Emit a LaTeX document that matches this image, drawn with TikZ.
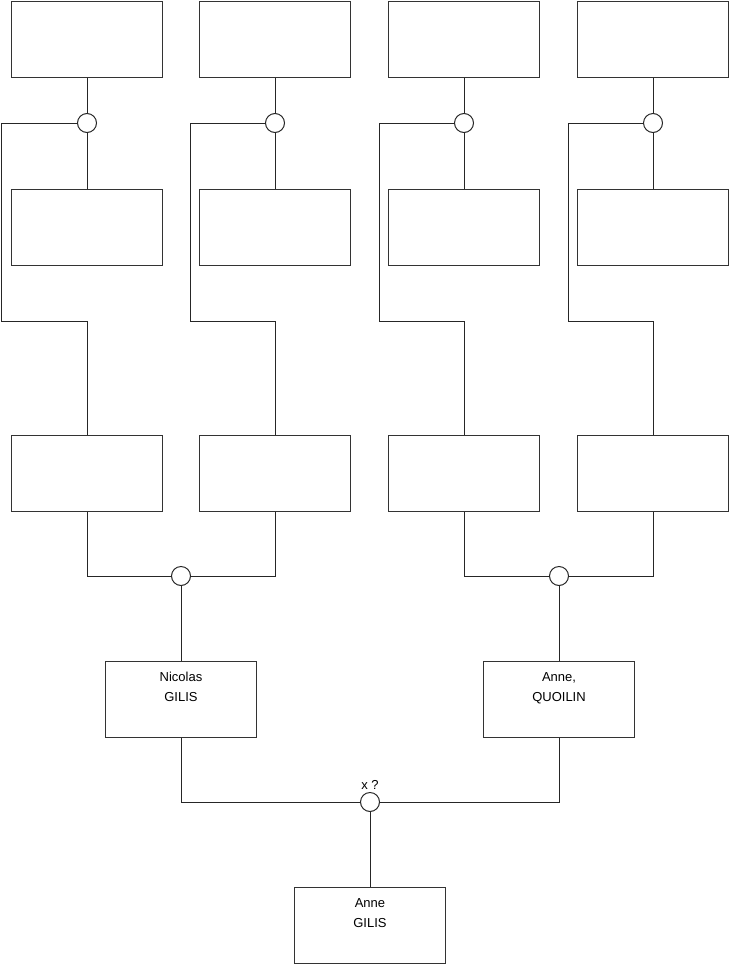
\documentclass[tikz,border=0pt]{standalone}
\usepackage{fontspec}
\setmainfont{Liberation Sans}
\begin{document}
\begin{tikzpicture}[x=1pt,y=-1pt,
  line/.style={draw=black!85,line width=1pt},
  person/.style={draw=black!80,line width=1pt,fill=white,minimum width=151pt,minimum height=76pt,inner sep=0pt,anchor=north},
  union/.style={circle,draw=black!85,line width=1pt,fill=white,minimum size=19pt,inner sep=0pt},
  nm/.style={font=\fontsize{13}{20}\selectfont,align=center,anchor=north,inner sep=0pt}]
\useasboundingbox (0,0) rectangle (740,975);
% top row
\node[person] (t1) at (87,0.5) {};
\node[person] (t2) at (275,0.5) {};
\node[person] (t3) at (464,0.5) {};
\node[person] (t4) at (653,0.5) {};
% second row
\node[person] (m1) at (87,189) {};
\node[person] (m2) at (275,189) {};
\node[person] (m3) at (464,189) {};
\node[person] (m4) at (653,189) {};
% third row
\node[person] (b1) at (87,435) {};
\node[person] (b2) at (275,435) {};
\node[person] (b3) at (464,435) {};
\node[person] (b4) at (653,435) {};
% parents
\node[person] (p1) at (181,661) {};
\node[nm] (p1t) at ([yshift=-11pt]p1.north) {Nicolas\\GILIS};
\node[person] (p2) at (559,661) {};
\node[nm] (p2t) at ([yshift=-11pt]p2.north) {Anne,\\QUOILIN};
% child
\node[person] (ch) at (370,887) {};
\node[nm] (cht) at ([yshift=-11pt]ch.north) {Anne\\GILIS};
% union circles
\node[union] (u1) at (87,123) {};
\node[union] (u2) at (275,123) {};
\node[union] (u3) at (464,123) {};
\node[union] (u4) at (653,123) {};
\node[union] (v1) at (181,576) {};
\node[union] (v2) at (559,576) {};
\node[union] (w) at (370,802) {};
\node[nm,anchor=south] (wl) at ([yshift=2pt]w.north) {x ?};
% corner coordinates
\coordinate (k1) at (1.5,321);
\coordinate (k2) at (190,321);
\coordinate (k3) at (379,321);
\coordinate (k4) at (568,321);
% connectors
\foreach \i in {1,2,3,4}{
  \draw[line] (t\i.south) -- (u\i.north);
  \draw[line] (u\i.south) -- (m\i.north);
  \draw[line] (u\i.west) -| (k\i) -| (b\i.north);
}
\draw[line] (b1.south) |- (v1.west);
\draw[line] (b2.south) |- (v1.east);
\draw[line] (b3.south) |- (v2.west);
\draw[line] (b4.south) |- (v2.east);
\draw[line] (v1.south) -- (p1.north);
\draw[line] (v2.south) -- (p2.north);
\draw[line] (p1.south) |- (w.west);
\draw[line] (p2.south) |- (w.east);
\draw[line] (w.south) -- (ch.north);
\end{tikzpicture}
\end{document}
